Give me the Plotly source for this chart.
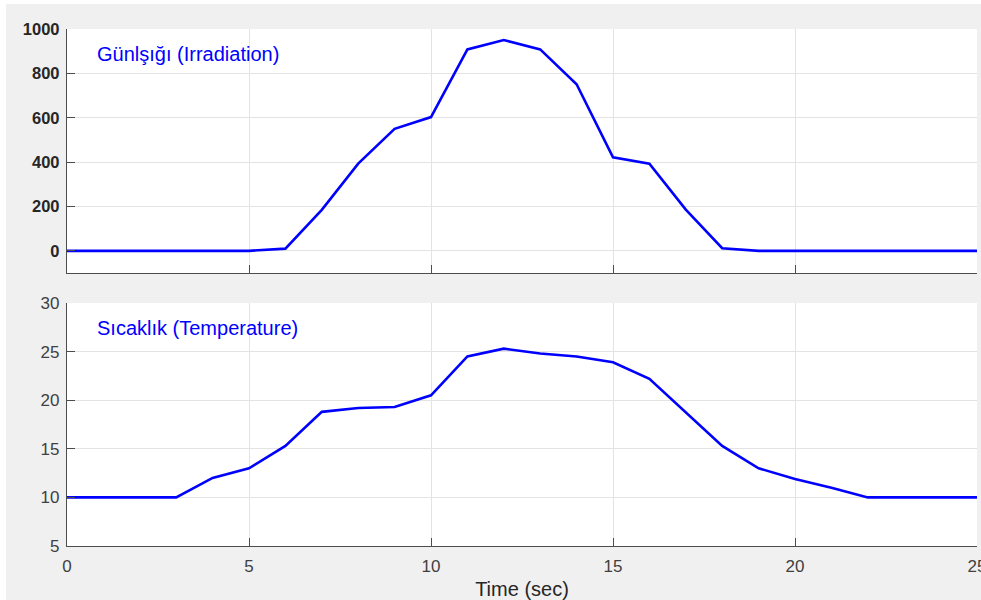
import plotly.graph_objects as go

time_s = list(range(0, 26))
irradiation = [0, 0, 0, 0, 0, 0, 10, 185, 393, 550, 603, 908, 950, 908, 751, 422, 393, 186, 12, 0,
               0, 0, 0, 0, 0, 0]
temperature = [10, 10, 10, 10, 12.0, 13.0, 15.3, 18.8, 19.2, 19.3, 20.5, 24.5, 25.3, 24.8, 24.5, 23.9,
               22.2, 18.7, 15.3, 13.0, 11.9, 11.0, 10, 10, 10, 10]

x_ticks = [0, 5, 10, 15, 20, 25]
irr_ticks = [0, 200, 400, 600, 800, 1000]
temp_ticks = [5, 10, 15, 20, 25, 30]

label_irr = "Günlşığı (Irradiation)"
label_temp = "Sıcaklık (Temperature)"
x_title = "Time (sec)"

FONT = "Liberation Sans, Arial, sans-serif"
BLUE = "#0000ff"
GRID = "#e3e3e3"
AXC = "#4d4d4d"

fig = go.Figure()
fig.add_trace(go.Scatter(x=time_s, y=irradiation, mode="lines",
                         line=dict(color=BLUE, width=2.6), xaxis="x", yaxis="y",
                         showlegend=False))
fig.add_trace(go.Scatter(x=time_s, y=temperature, mode="lines",
                         line=dict(color=BLUE, width=2.6), xaxis="x2", yaxis="y2",
                         showlegend=False))

common_x = dict(range=[0, 25], tickvals=x_ticks, showgrid=True, gridcolor=GRID, gridwidth=1,
                zeroline=False, showline=True, linecolor=AXC, linewidth=1.3,
                ticks="inside", ticklen=8, tickcolor=AXC, tickwidth=1.3,
                ticklabeloverflow="allow", automargin=False)
common_y = dict(showgrid=True, gridcolor=GRID, gridwidth=1, zeroline=False, showline=True,
                linecolor=AXC, linewidth=1.3, ticks="inside", ticklen=8, tickcolor=AXC,
                tickwidth=1.3, ticklabelstandoff=3, automargin=False)

fig.update_layout(
    width=981, height=600,
    margin=dict(l=67, r=4, t=29, b=54, pad=0, autoexpand=False),
    paper_bgcolor="#f0f0f0", plot_bgcolor="white",
    font=dict(family=FONT),
    xaxis=dict(**common_x, anchor="y", domain=[0, 1], showticklabels=False),
    yaxis=dict(**common_y, range=[-100, 1000], tickvals=irr_ticks, domain=[0.528, 1.0],
               anchor="x",
               tickfont=dict(family=FONT, size=16.5, color="#262626", weight="bold")),
    xaxis2=dict(**common_x, anchor="y2", domain=[0, 1], matches="x",
                ticklabelstandoff=4,
                tickfont=dict(family=FONT, size=17, color="#404040"),
                title=dict(text=x_title, font=dict(family=FONT, size=20, color="#262626"),
                           standoff=10)),
    yaxis2=dict(**common_y, range=[5, 30], tickvals=temp_ticks, domain=[0.0, 0.470],
                anchor="x2",
                tickfont=dict(family=FONT, size=17, color="#404040")),
    annotations=[
        dict(text=label_irr, xref="x domain", yref="y domain", x=0.031, y=0.8975,
             xanchor="left", yanchor="middle", showarrow=False,
             font=dict(family=FONT, size=20, color=BLUE)),
        dict(text=label_temp, xref="x2 domain", yref="y2 domain", x=0.031, y=0.897,
             xanchor="left", yanchor="middle", showarrow=False,
             font=dict(family=FONT, size=20, color=BLUE)),
    ],
    shapes=[
        dict(type="rect", xref="paper", yref="paper", x0=-0.08, x1=-0.067, y0=-0.2, y1=1.2,
             fillcolor="white", line=dict(width=0), layer="above"),
        dict(type="rect", xref="paper", yref="paper", x0=-0.08, x1=1.01, y0=1.0484, y1=1.2,
             fillcolor="white", line=dict(width=0), layer="above"),
    ],
)

fig.write_html("out.html")
